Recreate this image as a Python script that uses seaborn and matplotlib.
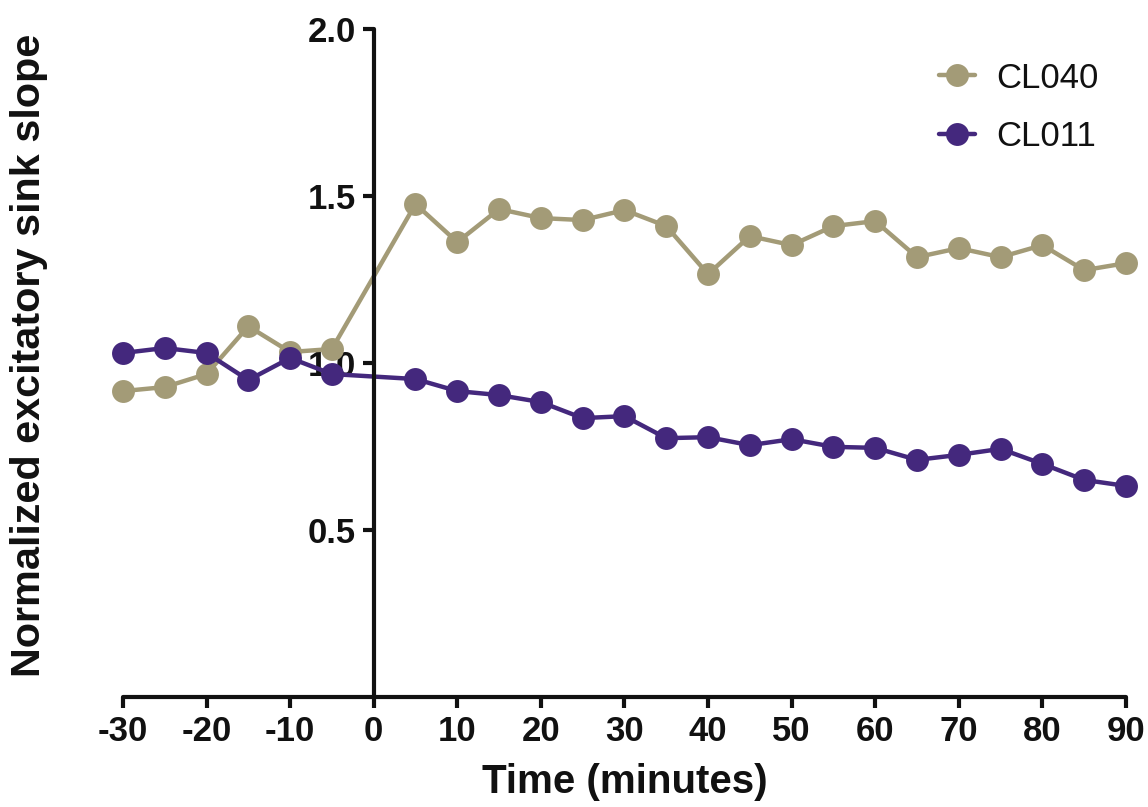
import matplotlib
matplotlib.use("Agg")
import matplotlib.pyplot as plt
import seaborn as sns
import pandas as pd

# Time points (minutes) and normalized slopes for each compound
times = [-30, -25, -20, -15, -10, -5, 5, 10, 15, 20, 25, 30, 35, 40, 45,
         50, 55, 60, 65, 70, 75, 80, 85, 90]
cl040 = [0.916, 0.928, 0.967, 1.110, 1.033, 1.042, 1.476, 1.362, 1.461,
         1.434, 1.428, 1.458, 1.410, 1.266, 1.380, 1.353, 1.410, 1.425,
         1.317, 1.344, 1.317, 1.353, 1.278, 1.299]
cl011 = [1.030, 1.045, 1.030, 0.949, 1.015, 0.967, 0.952, 0.916, 0.904,
         0.883, 0.835, 0.841, 0.775, 0.778, 0.754, 0.772, 0.749, 0.746,
         0.710, 0.725, 0.743, 0.698, 0.650, 0.632]
series_names = ["CL040", "CL011"]
x_ticks = [-30, -20, -10, 0, 10, 20, 30, 40, 50, 60, 70, 80, 90]
y_ticks = [0.5, 1.0, 1.5, 2.0]

df = pd.DataFrame({
    "time": times * 2,
    "value": cl040 + cl011,
    "series": [series_names[0]] * len(times) + [series_names[1]] * len(times),
})

sns.set_theme(style="white")
plt.rcParams["font.family"] = ["Liberation Sans", "DejaVu Sans"]
plt.rcParams["axes.unicode_minus"] = False

fig = plt.figure(figsize=(11.48, 8.07), dpi=100)
ax = fig.add_axes([0.1071, 0.1363, 0.8737, 0.8277])

palette = {"CL040": "#a39b77", "CL011": "#44287d"}
sns.lineplot(data=df, x="time", y="value", hue="series", hue_order=series_names,
             palette=palette, marker="o", markersize=16.5, markeredgewidth=0,
             linewidth=3.2, clip_on=False, ax=ax)

ax.set_xlim(-30, 90)
ax.set_ylim(0, 2.0)
ax.set_xticks(x_ticks)
ax.set_yticks(y_ticks)
ax.set_yticklabels([f"{v:.1f}" for v in y_ticks])

for side in ["top", "right"]:
    ax.spines[side].set_visible(False)
ax.spines["left"].set_position(("data", 0))
for side in ["left", "bottom"]:
    ax.spines[side].set_linewidth(3)
    ax.spines[side].set_color("#111111")
    ax.spines[side].set_capstyle("round")

ax.tick_params(axis="both", direction="out", length=8, width=3, color="#111111",
               labelsize=25, pad=5, bottom=True, left=True)
for lab in ax.get_xticklabels() + ax.get_yticklabels():
    lab.set_fontweight("bold")
    lab.set_color("#111111")

ax.set_xlabel("Time (minutes)", fontsize=29, fontweight="bold", color="#111111")
ax.set_ylabel("Normalized excitatory sink slope", fontsize=29.8, fontweight="bold",
              color="#111111")
ax.yaxis.set_label_coords(-0.075, 0.512)
ax.xaxis.set_label_coords(0.5, -0.099)

leg = ax.legend(loc="upper left", bbox_to_anchor=(0.782, 0.998), frameon=False,
                fontsize=25, handlelength=1.05, handletextpad=0.6,
                labelspacing=0.74)
for h in leg.legend_handles:
    h.set_markersize(16.5)
    h.set_linewidth(3.2)
for t in leg.get_texts():
    t.set_color("#111111")

fig.savefig("out.png", dpi=100)
